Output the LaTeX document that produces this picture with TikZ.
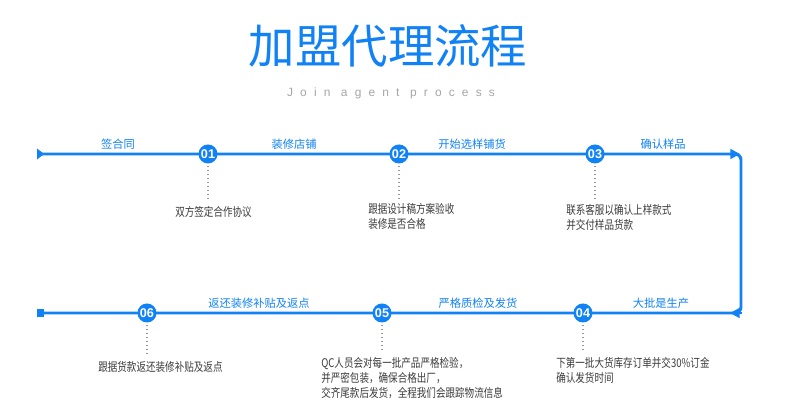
\documentclass[tikz,border=0pt]{standalone}
\usepackage{fontspec}
\setmainfont{Liberation Sans}
\newfontfamily\cjk{Noto Sans CJK SC}
\newfontfamily\cjknarrow[FakeStretch=0.8]{Noto Sans CJK SC}
\newfontfamily\spaced[LetterSpace=60]{Liberation Sans}
\usetikzlibrary{arrows.meta,backgrounds,calc}
\definecolor{azure}{RGB}{16,130,245}
\definecolor{slate}{RGB}{60,60,60}
\definecolor{mist}{RGB}{150,150,150}
\tikzset{
  flow/.style={line width=2.1pt,draw=azure},
  stepdot/.style={circle,fill=azure,text=white,inner sep=0pt,minimum size=4.75mm,
    font=\bfseries\fontsize{9}{10}\selectfont},
  steptag/.style={text=azure,font=\cjk\fontsize{8}{10}\selectfont,inner sep=0pt},
  stepnote/.style={text=slate,font=\cjknarrow\fontsize{8.5}{10.7}\selectfont,
    align=left,anchor=north west,inner sep=0pt},
  dotline/.style={draw=mist,dotted,line width=0.8pt,shorten <=0.6mm,shorten >=1.2mm},
}

\begin{document}
\begin{tikzpicture}[x=0.025cm,y=0.025cm]
  \node[text=azure,font=\cjk\fontsize{33}{36}\selectfont] (title) at (388,374) {加盟代理流程};
  \node[text=mist!85,font=\spaced\fontsize{8.5}{10}\selectfont] (subtitle) at (391,327) {Join agent process};

  % steps along the line
  \foreach \i/\x/\y in {1/208/266,2/399/266,3/595/266,4/583/107,5/382/107,6/147/107}
    \node[stepdot] (n\i) at (\x,\y) {0\i};

  \coordinate (start) at (37,266);
  \coordinate (cornerA) at (741,266);
  \coordinate (cornerB) at (741,107);
  \coordinate (finish) at (37,107);

  \begin{scope}[on background layer]
    \path[use as bounding box,fill=white] (0,0) rectangle (790,420);
    \draw[flow,rounded corners=1.5mm,{Triangle[reversed,length=1.8mm,width=2.6mm]}-{Square[length=1.8mm,width=1.8mm]}]
      (start) -- (n1.center) -- (n2.center) -- (n3.center) -- (cornerA)
      -- (cornerB) -- (n4.center) -- (n5.center) -- (n6.center) -- (finish);
  \end{scope}
  \draw[flow,-{Triangle[length=2.4mm,width=2.4mm]}] ($(cornerA)+(-25,0)$) -- ($(cornerA)+(-1,0)$);
  \draw[flow,-{Triangle[length=2.4mm,width=2.4mm]}] ($(cornerB)+(1,0)$) -- ($(cornerB)+(-11,0)$);

  % labels on the line
  \node[steptag] (tag1) at (118,276) {签合同};
  \node[steptag] (tag2) at (294,276) {装修店铺};
  \node[steptag] (tag3) at (472,276) {开始选样铺货};
  \node[steptag] (tag4) at (663,276) {确认样品};
  \node[steptag] (tag5) at (661,117) {大批是生产};
  \node[steptag] (tag6) at (478,117) {严格质检及发货};
  \node[steptag] (tag7) at (259,117) {返还装修补贴及返点};

  % notes under the steps
  \node[stepnote] (d1) at (175,214) {双方签定合作协议};
  \node[stepnote] (d2) at (368,217) {跟据设计稿方案验收\\装修是否合格};
  \node[stepnote] (d3) at (566,216) {联系客服以确认上样款式\\并交付样品货款};
  \node[stepnote] (d4) at (556,63) {下第一批大货库存订单并交30\%订金\\确认发货时间};
  \node[stepnote] (d5) at (321,63) {QC人员会对每一批产品严格检验，\\并严密包装，确保合格出厂，\\交齐尾款后发货，全程我们会跟踪物流信息};
  \node[stepnote] (d6) at (98,59) {跟据货款返还装修补贴及返点};

  \foreach \i in {1,...,6}
    \draw[dotline] (n\i.south) -- (n\i.south |- d\i.north);
\end{tikzpicture}
\end{document}
